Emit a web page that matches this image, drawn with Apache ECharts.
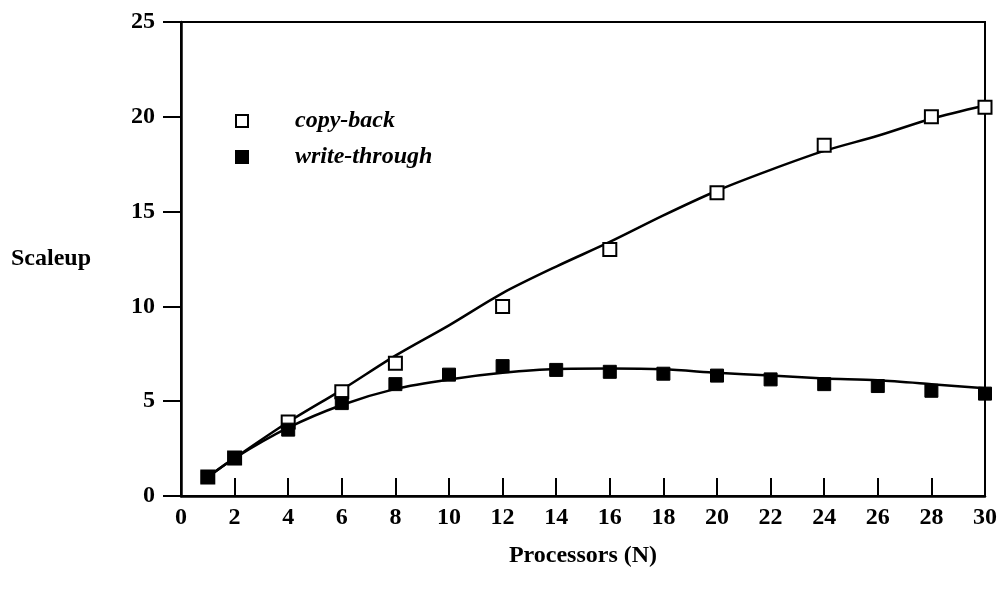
<!DOCTYPE html>
<html><head><meta charset="utf-8">
<script src="https://cdn.jsdelivr.net/npm/echarts@6/dist/echarts.min.js"></script>
<style>html,body{margin:0;padding:0;background:#fff}#c{width:1003px;height:590px}</style>
</head><body><div id="c"></div>
<script>
const xTicks = [0,2,4,6,8,10,12,14,16,18,20,22,24,26,28,30];
const procN = [1,2,4,6,8,12,16,20,24,28,30];
const copyBack = [1.0,2.0,3.9,5.5,7.0,10.0,13.0,16.0,18.5,20.0,20.5];
const procW = [1,2,4,6,8,10,12,14,16,18,20,22,24,26,28,30];
const writeThrough = [1.0,2.0,3.5,4.9,5.9,6.4,6.85,6.65,6.55,6.45,6.35,6.15,5.9,5.8,5.55,5.4];
const fitX = [1,2,4,6,8,10,12,14,16,18,20,22,24,26,28,30];
const copyFit = [1.0,2.0,3.9,5.6,7.4,9.0,10.7,12.1,13.4,14.8,16.1,17.2,18.2,19.0,19.9,20.6];
const writeFit = [1.0,2.0,3.6,4.8,5.65,6.15,6.5,6.7,6.72,6.68,6.5,6.35,6.2,6.1,5.9,5.68];

const font = '"Liberation Serif", "DejaVu Serif", serif';
const pairs = (xs, ys) => xs.map((x, i) => [x, ys[i]]);

const chart = echarts.init(document.getElementById('c'));
chart.setOption({
  animation: false,
  backgroundColor: '#fff',
  grid: {left: 181, right: 18, top: 22, bottom: 94, show: true, borderColor: '#000', borderWidth: 2},
  legend: {
    data: ['copy-back', 'write-through'],
    orient: 'vertical', left: 230, top: 104, itemWidth: 12, itemHeight: 12, itemGap: 12,
    textStyle: {fontFamily: font, fontSize: 24, fontStyle: 'italic', fontWeight: 'bold', color: '#000', padding: [0,0,0,42]}
  },
  xAxis: {
    type: 'value', min: 0, max: 30, interval: 2,
    name: 'Processors (N)', nameLocation: 'middle', nameGap: 48,
    nameTextStyle: {fontFamily: font, fontSize: 24, fontWeight: 'bold', color: '#000'},
    axisLine: {lineStyle: {color: '#000', width: 2.5}},
    axisTick: {inside: true, length: 18, lineStyle: {color: '#000', width: 2}},
    axisLabel: {fontFamily: font, fontSize: 24, fontWeight: 'bold', color: '#000', margin: 10,
      formatter: v => xTicks.includes(v) ? String(v) : ''},
    splitLine: {show: false}
  },
  yAxis: {
    type: 'value', min: 0, max: 25, interval: 5,
    name: 'Scaleup', nameLocation: 'middle', nameRotate: 0, nameGap: 90,
    nameTextStyle: {fontFamily: font, fontSize: 24, fontWeight: 'bold', color: '#000', align: 'right'},
    axisLine: {lineStyle: {color: '#000', width: 2.5}},
    axisTick: {inside: false, length: 18, lineStyle: {color: '#000', width: 2}},
    axisLabel: {fontFamily: font, fontSize: 24, fontWeight: 'bold', color: '#000', margin: 26},
    splitLine: {show: false}
  },
  series: [
    {name: 'copy-back fit', type: 'line', data: pairs(fitX, copyFit), smooth: 0.3, symbol: 'none',
      lineStyle: {color: '#000', width: 2.5}, z: 2},
    {name: 'write-through fit', type: 'line', data: pairs(fitX, writeFit), smooth: 0.3, symbol: 'none',
      lineStyle: {color: '#000', width: 2.5}, z: 2},
    {name: 'copy-back', type: 'scatter', data: pairs(procN, copyBack), symbol: 'rect', symbolSize: 13,
      itemStyle: {color: '#fff', borderColor: '#000', borderWidth: 2, opacity: 1}, z: 3},
    {name: 'write-through', type: 'scatter', data: pairs(procW, writeThrough), symbol: 'rect', symbolSize: 13,
      itemStyle: {color: '#000', borderColor: '#000', borderWidth: 1, opacity: 1}, z: 4}
  ]
});
</script></body></html>
